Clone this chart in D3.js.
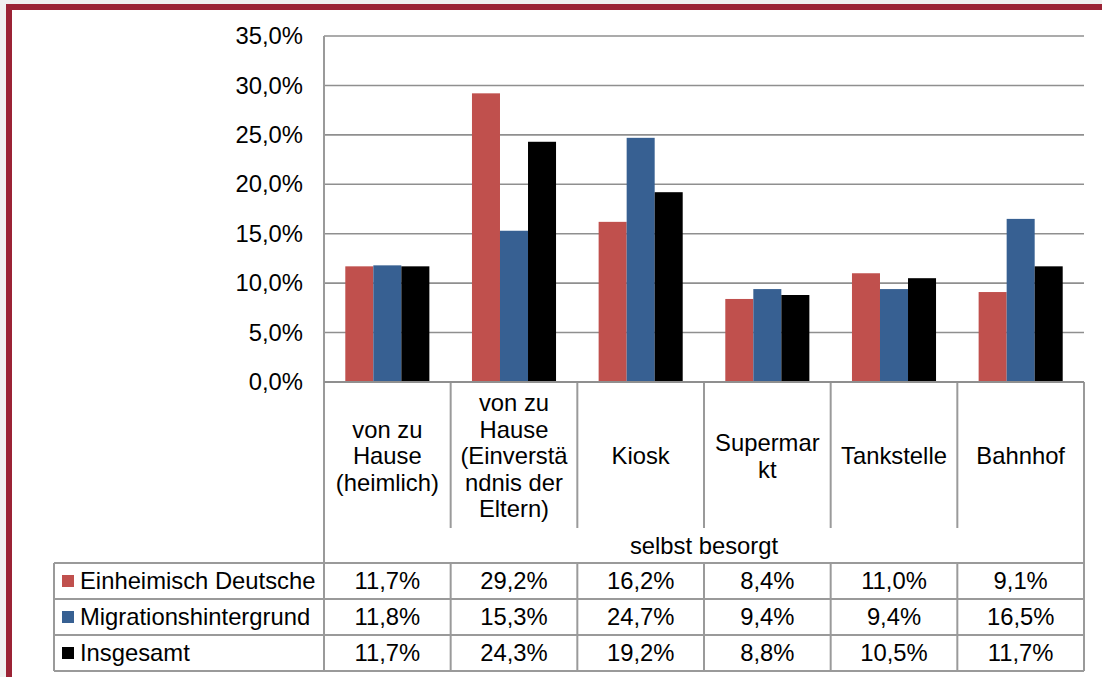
<!DOCTYPE html>
<html>
<head>
<meta charset="utf-8">
<script src="https://cdn.jsdelivr.net/npm/d3@7"></script>
<style>
  body { margin: 0; background: #f0f0f0; }
  svg { display: block; font-family: "Liberation Sans", Arial, sans-serif; }
</style>
</head>
<body>
<svg id="chart"></svg>
<script>
// data
var categories = ["von zu Hause (heimlich)", "von zu Hause (Einverständnis der Eltern)", "Kiosk", "Supermarkt", "Tankstelle", "Bahnhof"];
var categoryLines = [
    ["von zu", "Hause", "(heimlich)"],
    ["von zu", "Hause", "(Einverstä", "ndnis der", "Eltern)"],
    ["Kiosk"],
    ["Supermar", "kt"],
    ["Tankstelle"],
    ["Bahnhof"]
];
var groupLabel = "selbst besorgt";
var seriesNames = ["Einheimisch Deutsche", "Migrationshintergrund", "Insgesamt"];
var einheimisch = [11.7, 29.2, 16.2, 8.4, 11.0, 9.1];
var migration = [11.8, 15.3, 24.7, 9.4, 9.4, 16.5];
var insgesamt = [11.7, 24.3, 19.2, 8.8, 10.5, 11.7];
var yTicks = [0, 5, 10, 15, 20, 25, 30, 35];
var seriesColors = ["#c0504d", "#376092", "#000000"];

var width = 1102, height = 677;
var fsize = 23.8;
var line_color = "#8f8f8f";
var table_color = "#9a9a9a";

var plotLeft = 324, plotRight = 1084, plotTop = 36, zeroY = 382;
var headerBottom = 528, tableTop = 563, rowH = 36, tableLeft = 54;

var values = [einheimisch, migration, insgesamt];

var locale = d3.formatLocale({decimal: ",", thousands: ".", grouping: [3], currency: ["", "€"]});
var pct = locale.format(".1f");

var svg = d3.select("#chart").attr("width", width).attr("height", height);

// frame
svg.append("rect").attr("x", 6).attr("y", 4).attr("width", width).attr("height", height)
    .style("fill", "#ffffff");
svg.append("rect").attr("x", 6).attr("y", 4).attr("width", width).attr("height", 6)
    .style("fill", "#9b2335");
svg.append("rect").attr("x", 6).attr("y", 4).attr("width", 6).attr("height", height)
    .style("fill", "#9b2335");

var x0 = d3.scaleBand().domain(categories).range([plotLeft, plotRight]).padding(0);
var x1 = d3.scaleBand().domain(seriesNames).range([0, x0.bandwidth()]).paddingInner(0).paddingOuter(0.76);
var y = d3.scaleLinear().domain([0, 35]).range([zeroY, plotTop]);

// gridlines
svg.append("g").selectAll("line")
    .data(yTicks)
    .enter()
    .append("line")
    .attr("x1", plotLeft).attr("x2", plotRight)
    .attr("y1", function(d){ return y(d); })
    .attr("y2", function(d){ return y(d); })
    .style("stroke", line_color)
    .style("stroke-width", 1.6);

// y axis labels
var yAxis = d3.axisLeft(y).tickValues(yTicks).tickSize(0).tickPadding(21)
    .tickFormat(function(d){ return pct(d) + "%"; });
var ag = svg.append("g").attr("transform", "translate(" + plotLeft + ",0)").call(yAxis);
ag.select(".domain").remove();
ag.selectAll("text").attr("font-size", fsize).attr("font-family", "Liberation Sans, Arial, sans-serif")
    .style("fill", "#000");

// bars
var groups = svg.append("g").selectAll("g")
    .data(categories)
    .enter()
    .append("g")
    .attr("transform", function(c){ return "translate(" + x0(c) + ",0)"; });

groups.selectAll("rect")
    .data(function(c, i){
        return seriesNames.map(function(s, j){ return {s: s, v: values[j][i], j: j}; });
    })
    .enter()
    .append("rect")
    .attr("x", function(d){ return x1(d.s); })
    .attr("width", x1.bandwidth())
    .attr("y", function(d){ return y(d.v); })
    .attr("height", function(d){ return y(0) - y(d.v); })
    .style("fill", function(d){ return seriesColors[d.j]; });

// table lines
var tg = svg.append("g").style("stroke", table_color).style("stroke-width", 2).style("fill", "none");
// vertical axis line through plot and header
tg.append("line").attr("x1", plotLeft).attr("x2", plotLeft).attr("y1", plotTop).attr("y2", tableTop + rowH * 3);
tg.append("line").attr("x1", plotRight).attr("x2", plotRight).attr("y1", zeroY).attr("y2", tableTop + rowH * 3);
// category separators in header
tg.selectAll(".sep")
    .data(categories.slice(1))
    .enter()
    .append("line")
    .attr("x1", function(c){ return x0(c); })
    .attr("x2", function(c){ return x0(c); })
    .attr("y1", zeroY).attr("y2", headerBottom);
// separators in data rows
tg.selectAll(".rsep")
    .data(categories.slice(1))
    .enter()
    .append("line")
    .attr("x1", function(c){ return x0(c); })
    .attr("x2", function(c){ return x0(c); })
    .attr("y1", tableTop).attr("y2", tableTop + rowH * 3);
// horizontal rows
tg.selectAll(".hrow")
    .data([0, 1, 2, 3])
    .enter()
    .append("line")
    .attr("x1", tableLeft).attr("x2", plotRight)
    .attr("y1", function(d){ return tableTop + d * rowH; })
    .attr("y2", function(d){ return tableTop + d * rowH; });
tg.append("line").attr("x1", tableLeft).attr("x2", tableLeft).attr("y1", tableTop).attr("y2", tableTop + rowH * 3);
// zero line
svg.append("line").attr("x1", plotLeft).attr("x2", plotRight).attr("y1", zeroY).attr("y2", zeroY)
    .style("stroke", line_color).style("stroke-width", 2);

// category labels
var lh = 26.5;
var hcenter = (zeroY + headerBottom) / 2 + 1;
var cl = svg.append("g").selectAll("text")
    .data(categories)
    .enter()
    .append("text")
    .attr("text-anchor", "middle")
    .attr("font-size", fsize)
    .style("fill", "#000");
cl.each(function(c, i){
    var lines = categoryLines[i];
    var t = d3.select(this);
    lines.forEach(function(l, k){
        t.append("tspan")
            .attr("x", x0(c) + x0.bandwidth() / 2)
            .attr("y", hcenter + (k - (lines.length - 1) / 2) * lh)
            .attr("dy", "0.35em")
            .text(l);
    });
});

svg.append("text")
    .attr("x", (plotLeft + plotRight) / 2)
    .attr("y", (headerBottom + tableTop) / 2)
    .attr("dy", "0.35em")
    .attr("text-anchor", "middle")
    .attr("font-size", fsize)
    .style("fill", "#000")
    .text(groupLabel);

// data table rows
seriesNames.forEach(function(s, j){
    var cy = tableTop + j * rowH + rowH / 2;
    svg.append("rect")
        .attr("x", 62).attr("y", cy - 6)
        .attr("width", 12).attr("height", 12)
        .style("fill", seriesColors[j]);
    svg.append("text")
        .attr("x", 80).attr("y", cy)
        .attr("dy", "0.35em")
        .attr("font-size", fsize)
        .style("fill", "#000")
        .text(s);
    svg.append("g").selectAll("text")
        .data(values[j])
        .enter()
        .append("text")
        .attr("x", function(v, i){ return x0(categories[i]) + x0.bandwidth() / 2; })
        .attr("y", cy)
        .attr("dy", "0.35em")
        .attr("text-anchor", "middle")
        .attr("font-size", fsize)
        .style("fill", "#000")
        .text(function(v){ return pct(v) + "%"; });
});
</script>
</body>
</html>
